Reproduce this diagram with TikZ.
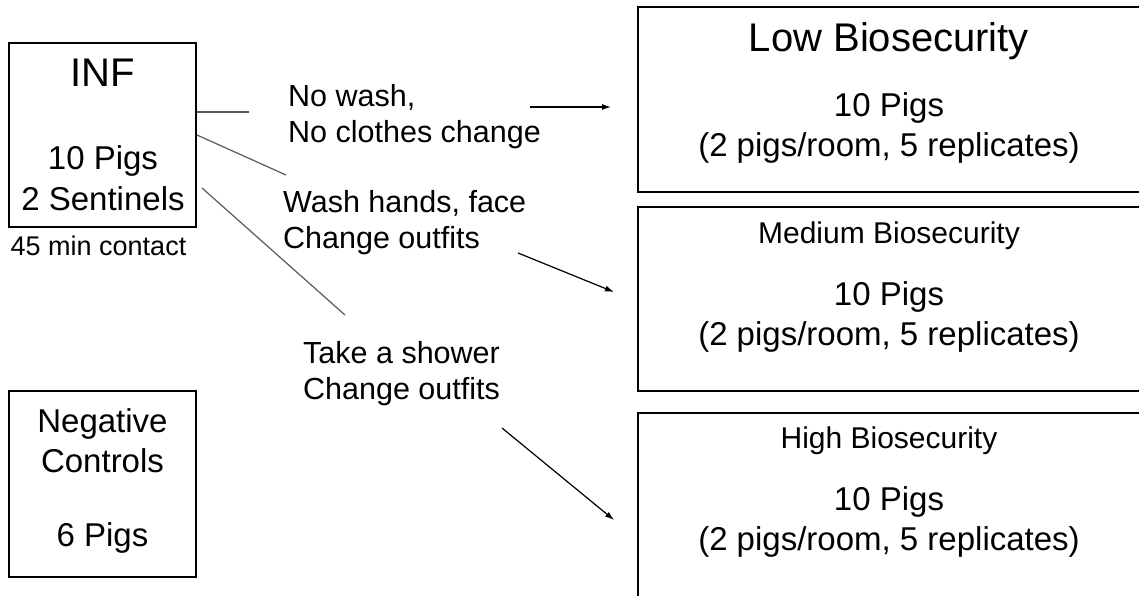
\documentclass[tikz,border=0pt]{standalone}
\usepackage{fontspec}
\setmainfont{Liberation Sans}
\usepackage{tikz}
\usetikzlibrary{arrows.meta}
\tikzset{
	box/.style 2 args={draw,line width=2pt,minimum width=#1,minimum height=#2,inner sep=0pt},
	bigtxt/.style={font=\fontsize{40}{48}\selectfont,anchor=base,inner sep=0pt},
	midtxt/.style={font=\fontsize{33}{40}\selectfont,anchor=base,inner sep=0pt},
	subtxt/.style={font=\fontsize{30}{36}\selectfont,anchor=base,inner sep=0pt},
	note/.style={font=\fontsize{27}{32}\selectfont,anchor=base,inner sep=0pt},
	lbl/.style={font=\fontsize{30.5}{36.5}\selectfont,align=left,anchor=north west,inner sep=0pt},
	conn/.style={draw=black!65,line width=1.2pt},
	arr/.style={draw=black,line width=1.2pt,-{Latex[length=9pt,width=6pt]}}
}

\begin{document}
\begin{tikzpicture}[x=1pt,y=-1pt]
						\useasboundingbox (0,0) rectangle (1139,596);
						\clip (0,0) rectangle (1139,596);

						% left boxes
						\node [box={187pt}{184pt}] (inf) at (102.5,135) {};
						\node [bigtxt] (infname) at (103,87) {INF};
						\node [midtxt] (infpigs) at (103,170) {10 Pigs};
						\node [midtxt] (infsent) at (103,210) {2 Sentinels};
						\node [note] (contact) at (98.5,255) {45 min contact};

						\node [box={187pt}{186pt}] (neg) at (102.5,484) {};
						\node [midtxt] (negname) at (102.5,432) {Negative};
						\node [midtxt] (negctl) at (102.5,472) {Controls};
						\node [midtxt] (negpigs) at (102.5,546) {6 Pigs};

						% right boxes
						\node [box={504pt}{185pt}] (low) at (890,99.5) {};
						\node [bigtxt] (lowname) at (889,52) {Low Biosecurity};
						\node [midtxt] (lowpigs) at (889,117) {10 Pigs};
						\node [midtxt] (lowrep) at (889,157) {(2 pigs/room, 5 replicates)};

						\node [box={504pt}{184pt}] (med) at (890,299) {};
						\node [subtxt] (medname) at (889,243) {Medium Biosecurity};
						\node [midtxt] (medpigs) at (889,305) {10 Pigs};
						\node [midtxt] (medrep) at (889,345) {(2 pigs/room, 5 replicates)};

						\node [box={504pt}{200pt}] (high) at (890,513) {};
						\node [subtxt] (highname) at (889,448) {High Biosecurity};
						\node [midtxt] (highpigs) at (889,510) {10 Pigs};
						\node [midtxt] (highrep) at (889,550) {(2 pigs/room, 5 replicates)};

						% labels
						\node [lbl] (nowash) at (288,84) {No wash,\\No clothes change};
						\node [lbl] (washhands) at (283,190) {Wash hands, face\\Change outfits};
						\node [lbl] (shower) at (303,341) {Take a shower\\Change outfits};

						\coordinate (l1) at (249,112);
						\coordinate (l2) at (286,175);
						\coordinate (l3s) at (202,188);
						\coordinate (l3) at (345,315);
						\coordinate (a1) at (530,107);
						\coordinate (a2) at (518,253);
						\coordinate (a3) at (502,428);

						\draw [conn] (inf.east |- l1) -- (l1);
						\draw [conn] (inf.east) -- (l2);
						\draw [conn] (l3s) -- (l3);
						\draw [arr] (a1) -- ([xshift=-26pt]low.west |- a1);
						\draw [arr] (a2) -- ([shift={(-23,-7)}]med.west);
						\draw [arr] (a3) -- ([shift={(-23,7)}]high.west);
					\end{tikzpicture}
\end{document}
